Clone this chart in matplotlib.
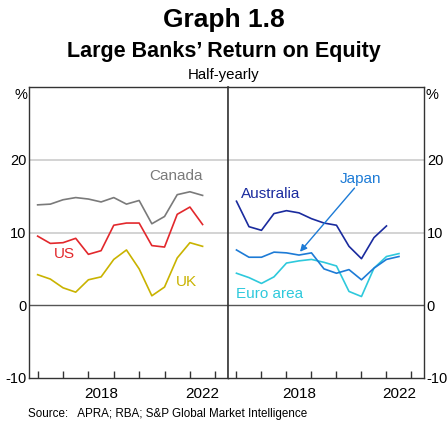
import numpy as np
import matplotlib
matplotlib.use("Agg")
import matplotlib.pyplot as plt

plt.rcParams['font.family'] = ['Liberation Sans', 'DejaVu Sans']
plt.rcParams['axes.unicode_minus'] = False

# half-yearly observations, return on equity (%)
dates = [2016.0, 2016.5, 2017.0, 2017.5, 2018.0, 2018.5, 2019.0, 2019.5,
         2020.0, 2020.5, 2021.0, 2021.5, 2022.0, 2022.5]

canada = [13.8, 13.9, 14.5, 14.8, 14.6, 14.2, 14.8, 13.9, 14.4, 11.2, 12.2, 15.2, 15.6, 15.1]
us = [9.5, 8.5, 8.6, 9.2, 7.0, 7.5, 11.0, 11.3, 11.3, 8.2, 8.0, 12.5, 13.5, 11.1]
uk = [4.2, 3.6, 2.4, 1.8, 3.5, 3.9, 6.3, 7.6, 5.0, 1.3, 2.5, 6.5, 8.6, 8.1]

australia = [14.3, 10.8, 10.3, 12.6, 13.0, 12.7, 11.9, 11.3, 11.0, 8.1, 6.4, 9.3, 10.9]
japan = [7.6, 6.6, 6.6, 7.3, 7.2, 6.9, 7.2, 5.0, 4.4, 4.9, 3.5, 5.1, 6.3, 6.7]
euro = [4.4, 3.8, 3.0, 3.9, 5.8, 6.1, 6.3, 5.9, 5.4, 1.9, 1.2, 5.1, 6.7, 7.1]

year_ticks = [2016, 2017, 2018, 2019, 2020, 2021, 2022, 2023]
year_labels = [2018, 2022]
y_ticks = [-10, 0, 10, 20]

c_canada = '#7a7a7a'
c_us = '#e2282c'
c_uk = '#c9b300'
c_aus = '#1a2b9e'
c_japan = '#1d7bd6'
c_euro = '#2ec9dc'

fig = plt.figure(figsize=(4.47, 4.24), dpi=100)
ax1 = fig.add_axes([0.0649, 0.1085, 0.4451, 0.6863])
ax2 = fig.add_axes([0.5100, 0.1085, 0.4385, 0.6863])

for ax in [ax1, ax2]:
    ax.set_xlim(2015.66, 2023.5)
    ax.set_ylim(-10, 30)
    for g in [10, 20]:
        ax.axhline(g, color='#cccccc', lw=1.2, zorder=1)
    ax.axhline(0, color='#555555', lw=1.0, zorder=1)
    ax.set_xticks(year_ticks)
    ax.set_xticklabels([])
    ax.tick_params(axis='x', direction='in', length=5, width=1, color='#333333')
    ax.set_yticks(y_ticks)
    ax.tick_params(axis='y', length=0, labelsize=10.5, pad=2)
    for s in ax.spines.values():
        s.set_color('#333333')
        s.set_linewidth(1)
    for yr in year_labels:
        ax.text(yr + 0.5, -11.2, str(yr), ha='center', va='top', fontsize=11,
                transform=ax.transData)

ax2.spines['left'].set_linewidth(1.2)
ax2.yaxis.tick_right()
ax2.tick_params(axis='y', length=0, pad=2)
ax1.text(-0.01, 28.9, '%', ha='right', va='center', fontsize=10.5,
         transform=ax1.get_yaxis_transform())
ax2.text(1.01, 28.9, '%', ha='left', va='center', fontsize=10.5,
         transform=ax2.get_yaxis_transform())

ax1.plot(dates, canada, color=c_canada, lw=1.2, zorder=3)
ax1.plot(dates, us, color=c_us, lw=1.2, zorder=3)
ax1.plot(dates, uk, color=c_uk, lw=1.2, zorder=3)

ax2.plot(dates[:len(australia)], australia, color=c_aus, lw=1.2, zorder=3)
ax2.plot(dates, euro, color=c_euro, lw=1.2, zorder=3)
ax2.plot(dates, japan, color=c_japan, lw=1.2, zorder=3)

ax1.text(2021.45, 17.8, 'Canada', color=c_canada, fontsize=11, ha='center', va='center')
ax1.text(2017.05, 7.0, 'US', color=c_us, fontsize=11, ha='center', va='center')
ax1.text(2021.85, 3.15, 'UK', color=c_uk, fontsize=11, ha='center', va='center')

ax2.text(2017.38, 15.3, 'Australia', color=c_aus, fontsize=11, ha='center', va='center')
ax2.text(2020.95, 17.35, 'Japan', color=c_japan, fontsize=11, ha='center', va='center')
ax2.text(2017.33, 1.5, 'Euro area', color=c_euro, fontsize=11, ha='center', va='center')
ax2.annotate('', xy=(2018.54, 7.35), xytext=(2020.72, 16.1),
             arrowprops=dict(arrowstyle='-|>', color=c_japan, lw=1.0,
                             mutation_scale=10, shrinkA=0, shrinkB=0))

fig.text(0.5, 1 - 20 / 424, 'Graph 1.8', ha='center', va='center',
         fontsize=19, fontweight='bold')
fig.text(0.5, 1 - 52 / 424, 'Large Banks\u2019 Return on Equity', ha='center', va='center',
         fontsize=15.5, fontweight='bold')
fig.text(0.5, 1 - 75 / 424, 'Half-yearly', ha='center', va='center', fontsize=10.8)
fig.text(28 / 447, 1 - 414 / 424, 'Source:   APRA; RBA; S&P Global Market Intelligence',
         ha='left', va='center', fontsize=8.4)

fig.savefig('out.png', dpi=100)
